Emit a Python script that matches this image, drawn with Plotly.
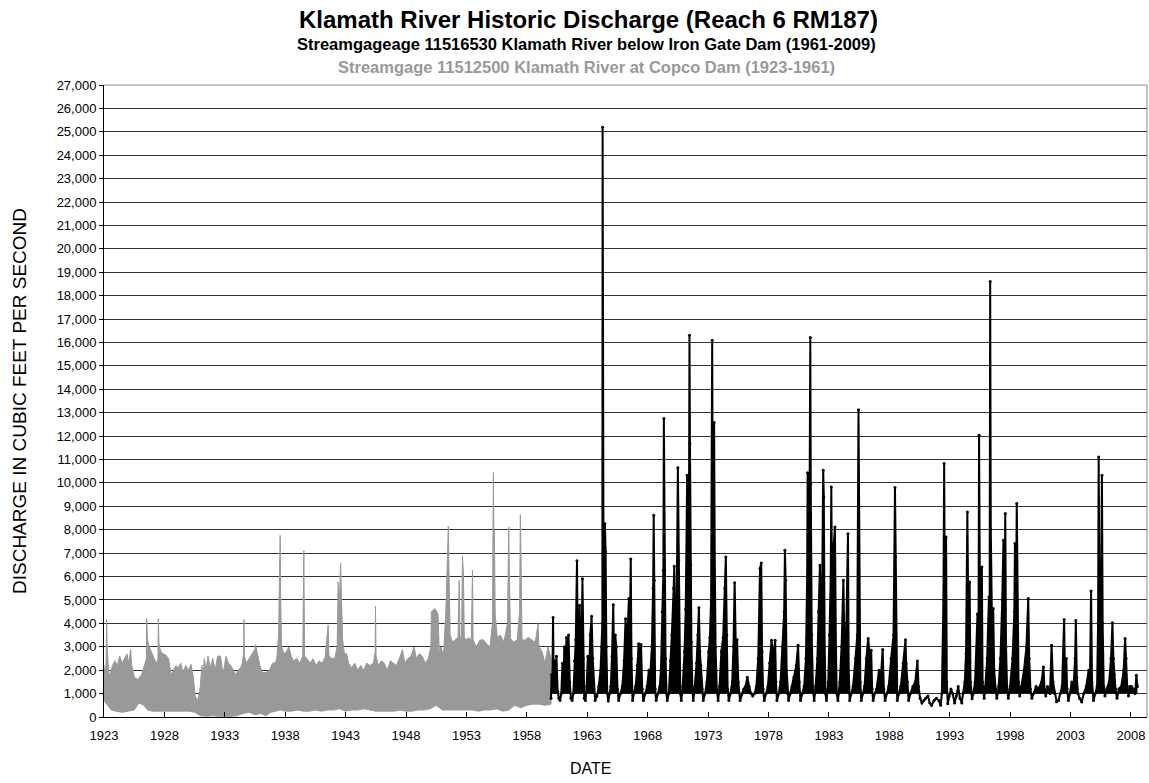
import plotly.graph_objects as go

# Copco Dam gauge (1923-1961): envelope of the daily peaking record, decimal years
copco_upper_year = [
    1923.00, 1923.10, 1923.18, 1923.22, 1923.26, 1923.40, 1923.55, 1923.70, 1923.90, 1924.10,
    1924.30, 1924.50, 1924.70, 1924.90, 1925.05, 1925.20, 1925.30, 1925.50, 1925.80, 1926.10,
    1926.35, 1926.50, 1926.53, 1926.60, 1926.75, 1926.95, 1927.15, 1927.35, 1927.47, 1927.50,
    1927.55, 1927.70, 1927.90, 1928.10, 1928.35, 1928.55, 1928.75, 1928.95, 1929.15, 1929.35,
    1929.55, 1929.75, 1930.00, 1930.20, 1930.40, 1930.55, 1930.75, 1930.95, 1931.10, 1931.20,
    1931.30, 1931.45, 1931.60, 1931.80, 1932.00, 1932.20, 1932.40, 1932.65, 1932.85, 1933.10,
    1933.30, 1933.50, 1933.70, 1933.90, 1934.10, 1934.30, 1934.45, 1934.55, 1934.58, 1934.62,
    1934.80, 1935.00, 1935.25, 1935.50, 1935.55, 1935.70, 1935.90, 1936.10, 1936.40, 1936.70,
    1936.95, 1937.15, 1937.30, 1937.45, 1937.50, 1937.58, 1937.62, 1937.70, 1937.90, 1938.10,
    1938.30, 1938.50, 1938.70, 1938.95, 1939.20, 1939.45, 1939.54, 1939.60, 1939.80, 1940.05,
    1940.30, 1940.55, 1940.80, 1941.05, 1941.30, 1941.50, 1941.55, 1941.62, 1941.85, 1942.10,
    1942.30, 1942.38, 1942.50, 1942.58, 1942.66, 1942.75, 1942.90, 1943.07, 1943.25, 1943.50,
    1943.75, 1944.00, 1944.25, 1944.50, 1944.75, 1945.00, 1945.30, 1945.45, 1945.47, 1945.52,
    1945.70, 1945.95, 1946.20, 1946.45, 1946.70, 1946.95, 1947.20, 1947.45, 1947.70, 1947.90,
    1948.15, 1948.40, 1948.67, 1948.85, 1949.10, 1949.35, 1949.60, 1949.85, 1950.05, 1950.10,
    1950.40, 1950.65, 1950.75, 1950.90, 1951.10, 1951.30, 1951.50, 1951.55, 1951.65, 1951.85,
    1952.10, 1952.30, 1952.40, 1952.47, 1952.60, 1952.67, 1952.75, 1952.82, 1953.00, 1953.20,
    1953.40, 1953.50, 1953.55, 1953.80, 1954.10, 1954.40, 1954.70, 1954.95, 1955.15, 1955.23,
    1955.27, 1955.31, 1955.38, 1955.55, 1955.80, 1956.10, 1956.40, 1956.50, 1956.55, 1956.65,
    1956.90, 1957.20, 1957.40, 1957.46, 1957.52, 1957.60, 1957.85, 1958.10, 1958.40, 1958.70,
    1958.93, 1959.00, 1959.25, 1959.50, 1959.75, 1960.00,
]
copco_upper_cfs = [
    2200, 1600, 2500, 4160, 2990, 1800, 1900, 2200, 2400, 2200,
    2600, 2300, 2500, 2700, 2300, 2880, 2200, 1700, 1600, 1800,
    2200, 2500, 4200, 3300, 2990, 2700, 2500, 2280, 2500, 4200,
    3130, 2800, 2700, 2650, 2500, 1800, 2000, 2200, 2100, 2300,
    1900, 2200, 2000, 2250, 1700, 900, 700, 1200, 2200, 1700,
    2500, 2000, 2600, 2100, 2500, 2000, 2600, 2600, 1800, 2600,
    2300, 2200, 2000, 1800, 2000, 2100, 2300, 2700, 4160, 2600,
    2300, 2500, 2700, 2900, 3090, 2700, 2200, 1900, 1900, 2000,
    2300, 2300, 2490, 3500, 5480, 7760, 5130, 3000, 2700, 2800,
    2990, 2600, 2400, 2500, 2300, 2600, 7120, 2600, 2500, 2300,
    2490, 2200, 2400, 2300, 2550, 3500, 3920, 2600, 2500, 2500,
    3000, 5770, 5000, 6580, 5270, 3300, 2700, 2710, 2300, 2100,
    2300, 2000, 2200, 2000, 2300, 2200, 2300, 2800, 4730, 2600,
    2200, 2400, 2300, 2000, 2400, 2300, 2200, 2500, 2880, 2300,
    2500, 2600, 2990, 2500, 2700, 2600, 2300, 2500, 3000, 4500,
    4630, 4400, 2800, 3000, 2600, 4590, 8150, 6410, 3500, 3200,
    3300, 3400, 5840, 3300, 3500, 6870, 6130, 3400, 3300, 3390,
    3300, 6270, 3300, 3000, 3280, 3300, 3100, 3000, 4000, 10440,
    7900, 7980, 4420, 3400, 3500, 3200, 4000, 8120, 6270, 3350,
    3200, 3300, 4500, 8650, 6700, 3300, 3280, 3400, 3300, 3200,
    3990, 3000, 2800, 2300, 3000, 2500,
]
copco_lower_year = [
    1923.00, 1923.30, 1923.60, 1924.00, 1924.50, 1925.00, 1925.50, 1925.90, 1926.30, 1926.60,
    1927.00, 1927.50, 1928.00, 1928.50, 1929.00, 1929.50, 1930.00, 1930.50, 1930.80, 1931.00,
    1931.50, 1932.00, 1932.50, 1933.00, 1933.50, 1934.00, 1934.50, 1935.00, 1935.50, 1936.00,
    1936.40, 1936.80, 1937.20, 1937.60, 1938.00, 1938.50, 1939.00, 1939.50, 1940.00, 1940.50,
    1941.00, 1941.50, 1942.00, 1942.50, 1943.00, 1943.50, 1944.00, 1944.50, 1945.00, 1945.50,
    1946.00, 1946.50, 1947.00, 1947.50, 1948.00, 1948.50, 1949.00, 1949.50, 1950.00, 1950.50,
    1951.00, 1951.50, 1952.00, 1952.50, 1953.00, 1953.50, 1954.00, 1954.50, 1955.00, 1955.50,
    1956.00, 1956.50, 1957.00, 1957.50, 1958.00, 1958.50, 1959.00, 1959.50, 1960.00,
]
copco_lower_cfs = [
    700, 500, 300, 250, 200, 250, 300, 600, 500, 300,
    250, 250, 250, 250, 250, 250, 250, 200, 100, 50,
    30, 50, 30, 20, 30, 50, 150, 200, 100, 150,
    50, 200, 250, 300, 250, 250, 300, 250, 250, 300,
    250, 300, 300, 350, 250, 300, 300, 350, 300, 250,
    250, 250, 250, 300, 250, 250, 300, 300, 350, 500,
    300, 300, 300, 300, 300, 300, 250, 300, 300, 350,
    250, 300, 500, 400, 500, 550, 550, 500, 550,
]

# Iron Gate Dam gauge (1961-2009): daily record, decimal years
iron_gate_year = [
    1960.00, 1960.05, 1960.10, 1960.17, 1960.22, 1960.30, 1960.38, 1960.45, 1960.55, 1960.65,
    1960.75, 1960.85, 1960.95, 1961.02, 1961.10, 1961.18, 1961.28, 1961.36, 1961.45, 1961.55,
    1961.65, 1961.75, 1961.85, 1961.95, 1962.05, 1962.15, 1962.22, 1962.30, 1962.37, 1962.45,
    1962.55, 1962.60, 1962.66, 1962.75, 1962.85, 1962.95, 1963.05, 1963.15, 1963.25, 1963.36,
    1963.45, 1963.55, 1963.65, 1963.80, 1963.95, 1964.10, 1964.20, 1964.25, 1964.27, 1964.30,
    1964.35, 1964.46, 1964.52, 1964.58, 1964.66, 1964.74, 1964.85, 1964.95, 1965.05, 1965.15,
    1965.22, 1965.32, 1965.40, 1965.50, 1965.60, 1965.75, 1965.90, 1966.05, 1966.17, 1966.27,
    1966.45, 1966.52, 1966.60, 1966.66, 1966.75, 1966.85, 1967.00, 1967.15, 1967.25, 1967.35,
    1967.45, 1967.55, 1967.65, 1967.80, 1967.95, 1968.10, 1968.20, 1968.35, 1968.45, 1968.50,
    1968.55, 1968.62, 1968.70, 1968.85, 1969.00, 1969.10, 1969.20, 1969.30, 1969.34, 1969.40,
    1969.48, 1969.56, 1969.62, 1969.75, 1969.90, 1970.00, 1970.15, 1970.20, 1970.30, 1970.40,
    1970.50, 1970.56, 1970.62, 1970.70, 1970.78, 1970.90, 1971.05, 1971.15, 1971.27, 1971.32,
    1971.40, 1971.46, 1971.50, 1971.56, 1971.62, 1971.70, 1971.77, 1971.90, 1972.05, 1972.15,
    1972.24, 1972.32, 1972.40, 1972.50, 1972.60, 1972.75, 1972.90, 1973.05, 1973.15, 1973.25,
    1973.34, 1973.40, 1973.50, 1973.55, 1973.62, 1973.72, 1973.83, 1973.95, 1974.10, 1974.25,
    1974.40, 1974.47, 1974.55, 1974.62, 1974.72, 1974.85, 1975.00, 1975.10, 1975.20, 1975.30,
    1975.40, 1975.50, 1975.65, 1975.80, 1975.95, 1976.10, 1976.25, 1976.40, 1976.55, 1976.70,
    1976.85, 1977.00, 1977.15, 1977.30, 1977.40, 1977.47, 1977.55, 1977.65, 1977.80, 1977.95,
    1978.10, 1978.25, 1978.40, 1978.55, 1978.62, 1978.70, 1978.85, 1979.00, 1979.15, 1979.30,
    1979.36, 1979.42, 1979.50, 1979.58, 1979.66, 1979.80, 1979.95, 1980.10, 1980.30, 1980.45,
    1980.55, 1980.65, 1980.80, 1980.95, 1981.10, 1981.20, 1981.24, 1981.30, 1981.40, 1981.46,
    1981.50, 1981.58, 1981.68, 1981.78, 1981.90, 1982.05, 1982.15, 1982.26, 1982.35, 1982.45,
    1982.53, 1982.58, 1982.65, 1982.72, 1982.80, 1982.95, 1983.05, 1983.15, 1983.20, 1983.28,
    1983.40, 1983.50, 1983.58, 1983.65, 1983.75, 1983.90, 1984.05, 1984.20, 1984.30, 1984.45,
    1984.58, 1984.64, 1984.72, 1984.85, 1985.00, 1985.20, 1985.35, 1985.45, 1985.52, 1985.60,
    1985.68, 1985.80, 1985.95, 1986.10, 1986.25, 1986.40, 1986.50, 1986.58, 1986.66, 1986.80,
    1986.95, 1987.15, 1987.30, 1987.45, 1987.55, 1987.65, 1987.80, 1987.95, 1988.15, 1988.35,
    1988.47, 1988.52, 1988.58, 1988.66, 1988.80, 1988.95, 1989.15, 1989.34, 1989.40, 1989.50,
    1989.60, 1989.75, 1989.95, 1990.15, 1990.33, 1990.42, 1990.55, 1990.70, 1990.85, 1991.00,
    1991.20, 1991.35, 1991.50, 1991.70, 1991.90, 1992.10, 1992.25, 1992.35, 1992.48, 1992.54,
    1992.60, 1992.70, 1992.76, 1992.84, 1992.95, 1993.10, 1993.25, 1993.40, 1993.55, 1993.70,
    1993.85, 1994.00, 1994.10, 1994.25, 1994.35, 1994.46, 1994.55, 1994.65, 1994.72, 1994.85,
    1994.95, 1995.10, 1995.30, 1995.38, 1995.43, 1995.50, 1995.66, 1995.72, 1995.85, 1995.95,
    1996.10, 1996.25, 1996.30, 1996.35, 1996.40, 1996.50, 1996.60, 1996.68, 1996.80, 1996.90,
    1997.05, 1997.20, 1997.35, 1997.45, 1997.52, 1997.60, 1997.66, 1997.75, 1997.85, 1998.00,
    1998.20, 1998.35, 1998.40, 1998.47, 1998.55, 1998.62, 1998.70, 1998.80, 1998.95, 1999.15,
    1999.35, 1999.50, 1999.58, 1999.68, 1999.80, 1999.95, 2000.15, 2000.35, 2000.60, 2000.76,
    2000.85, 2000.95, 2001.10, 2001.30, 2001.43, 2001.55, 2001.70, 2001.85, 2002.00, 2002.15,
    2002.30, 2002.47, 2002.55, 2002.65, 2002.72, 2002.82, 2002.95, 2003.10, 2003.25, 2003.38,
    2003.44, 2003.52, 2003.62, 2003.75, 2003.93, 2004.10, 2004.30, 2004.50, 2004.60, 2004.70,
    2004.78, 2004.90, 2005.05, 2005.20, 2005.28, 2005.33, 2005.40, 2005.50, 2005.60, 2005.66,
    2005.75, 2005.85, 2006.00, 2006.20, 2006.35, 2006.47, 2006.55, 2006.62, 2006.72, 2006.85,
    2007.00, 2007.20, 2007.40, 2007.52, 2007.60, 2007.70, 2007.80, 2007.90, 2008.05, 2008.20,
    2008.35, 2008.45, 2008.54,
]
iron_gate_cfs = [
    800, 1800, 1200, 4250, 1500, 2400, 1200, 2600, 1100, 800,
    700, 1000, 2300, 1300, 3000, 1800, 3400, 2000, 3500, 1500,
    800, 700, 1000, 2400, 3300, 6670, 2500, 3400, 4770, 2800,
    3600, 5910, 2500, 800, 700, 1300, 2600, 1800, 3500, 4300,
    2500, 1200, 700, 900, 1300, 2000, 3000, 4000, 25200, 11970,
    5000, 8260, 7050, 3000, 1000, 680, 1000, 1300, 2600, 4800,
    2500, 3500, 3000, 1200, 700, 1000, 1300, 2400, 4200, 2800,
    5060, 3500, 6750, 2500, 700, 1000, 1300, 2200, 3130, 2300,
    3100, 1200, 700, 1000, 1300, 2000, 1700, 3000, 5500, 8620,
    5840, 1200, 700, 1000, 1300, 2000, 4500, 6270, 12750, 6270,
    2500, 1000, 700, 1000, 2400, 3500, 5500, 6440, 3000, 4800,
    10650, 6700, 2500, 1000, 700, 1300, 2800, 4600, 10330, 3400,
    5000, 16310, 11680, 6500, 3200, 1200, 700, 1300, 2300, 3500,
    4670, 2800, 2200, 1200, 700, 1000, 1500, 2800, 3400, 5000,
    16100, 6000, 12580, 7000, 3000, 1200, 700, 1300, 2800, 3400,
    5500, 6840, 3500, 1200, 700, 1000, 1500, 3000, 5740, 2800,
    3300, 1500, 700, 1000, 1200, 1300, 1700, 1300, 1000, 900,
    1000, 1300, 2500, 6340, 6580, 2800, 1200, 700, 1000, 1300,
    2300, 3280, 2500, 3280, 1500, 700, 1000, 1500, 3000, 4500,
    7120, 5840, 2000, 1000, 700, 1000, 1300, 1700, 2200, 3060,
    1500, 700, 1000, 1300, 2500, 6000, 10430, 5000, 9000, 16210,
    9970, 3500, 1200, 700, 1300, 2500, 4500, 6480, 3200, 6000,
    10540, 9400, 3000, 1000, 700, 1500, 3500, 6000, 9830, 3500,
    7400, 8120, 3000, 1000, 700, 1500, 3000, 5840, 2500, 4000,
    7830, 2000, 700, 1000, 1300, 2500, 3500, 13130, 4000, 1500,
    700, 1000, 1300, 2500, 3350, 2600, 2850, 1200, 700, 1000,
    1200, 2000, 1700, 2880, 1200, 700, 1000, 1300, 2500, 3500,
    9800, 6840, 2000, 700, 1000, 1300, 2300, 3300, 2280, 1500,
    700, 1000, 1300, 1500, 2390, 1300, 800, 600, 700, 800,
    900, 600, 500, 700, 800, 700, 500, 1000, 5000, 10830,
    5000, 7690, 1500, 570, 900, 1200, 1000, 600, 900, 1300,
    800, 600, 1000, 1500, 2700, 8760, 4000, 5770, 1500, 780,
    1000, 1500, 4400, 3000, 12040, 5000, 6410, 1500, 800, 1300,
    2500, 5130, 3500, 18600, 8000, 4000, 4630, 2000, 1200, 800,
    1300, 2500, 5000, 7550, 4000, 8690, 3000, 1200, 800, 1300,
    2500, 4500, 7410, 4000, 9120, 4000, 1500, 900, 1300, 2000,
    3000, 5060, 2500, 1200, 800, 1000, 1300, 1200, 1500, 2140,
    1200, 900, 1300, 1000, 3060, 1500, 1000, 650, 700, 1000,
    1300, 4170, 1500, 2500, 1200, 700, 1000, 1500, 1300, 2500,
    4120, 1700, 1000, 800, 640, 1000, 1300, 2000, 1200, 5380,
    1500, 700, 1000, 1300, 4000, 11110, 5000, 3000, 10330, 4000,
    1300, 900, 1200, 1500, 2500, 4030, 2500, 1800, 1200, 800,
    1200, 1300, 2000, 3350, 2500, 1200, 900, 1300, 1300, 1200,
    1000, 1780, 1300,
]
# typical summer base release below Iron Gate, cfs
iron_gate_base_cfs = 1000

year_ticks = list(range(1923, 2009, 5))
cfs_ticks = list(range(0, 27001, 1000))

FONT = "Liberation Sans, Arial, sans-serif"
GRAY = "#999999"
BLACK = "#000000"

fig = go.Figure()

# Copco record drawn as a filled band between the daily lows and highs
fig.add_trace(go.Scatter(
    x=copco_upper_year + copco_lower_year[::-1],
    y=copco_upper_cfs + copco_lower_cfs[::-1],
    mode="lines",
    fill="toself",
    fillcolor=GRAY,
    line=dict(color=GRAY, width=1),
    hoverinfo="skip",
    showlegend=False,
))

# Iron Gate daily swings shaded down to the base release (nothing below it)
iron_gate_floor = [min(v, iron_gate_base_cfs) for v in iron_gate_cfs]
fig.add_trace(go.Scatter(
    x=iron_gate_year + iron_gate_year[::-1],
    y=iron_gate_cfs + iron_gate_floor[::-1],
    mode="none",
    fill="toself",
    fillcolor=BLACK,
    hoverinfo="skip",
    showlegend=False,
))

# Iron Gate record
fig.add_trace(go.Scatter(
    x=iron_gate_year,
    y=iron_gate_cfs,
    mode="lines+markers",
    line=dict(color=BLACK, width=2),
    marker=dict(color=BLACK, size=3),
    showlegend=False,
))

W, H = 1149, 783
L, R, T, B = 104, 2, 85, 66
pw, ph = W - L - R, H - T - B


def px_x(x):
    return (x - L) / pw


def px_y(y):
    return (H - B - y) / ph


fig.update_layout(
    width=W, height=H,
    margin=dict(l=L, r=R, t=T, b=B),
    paper_bgcolor="white",
    plot_bgcolor="white",
    font=dict(family=FONT, size=13, color=BLACK),
    xaxis=dict(
        range=[1923, 2009.33],
        tickvals=year_ticks,
        ticktext=[str(y) for y in year_ticks],
        showgrid=False,
        zeroline=False,
        showline=True, linecolor=BLACK, linewidth=1,
        ticks="inside", ticklen=5, tickcolor=BLACK,
        ticklabelstandoff=6,
        tickfont=dict(size=13),
    ),
    yaxis=dict(
        range=[0, 27000],
        tickvals=cfs_ticks,
        tickformat=",d",
        showgrid=True, gridcolor="#333333", gridwidth=1,
        zeroline=False,
        showline=True, linecolor=BLACK, linewidth=1,
        ticks="outside", ticklen=4, tickcolor=BLACK,
        tickfont=dict(size=13),
    ),
    shapes=[
        dict(type="line", xref="paper", yref="paper", x0=1, x1=1, y0=0, y1=1,
             line=dict(color="#888888", width=1)),
        dict(type="line", xref="paper", yref="paper", x0=0, x1=1, y0=1, y1=1,
             line=dict(color="#888888", width=1)),
    ],
    annotations=[
        dict(text="<b>Klamath River Historic Discharge (Reach 6 RM187)</b>",
             xref="paper", yref="paper", x=px_x(588), y=px_y(19),
             xanchor="center", yanchor="middle", showarrow=False,
             font=dict(size=24, color=BLACK)),
        dict(text="<b>Streamgageage 11516530 Klamath River below Iron Gate Dam (1961-2009)</b>",
             xref="paper", yref="paper", x=px_x(586), y=px_y(44),
             xanchor="center", yanchor="middle", showarrow=False,
             font=dict(size=16.5, color=BLACK)),
        dict(text="<b>Streamgage 11512500 Klamath River at Copco Dam (1923-1961)</b>",
             xref="paper", yref="paper", x=px_x(586), y=px_y(67.5),
             xanchor="center", yanchor="middle", showarrow=False,
             font=dict(size=16.5, color=GRAY)),
        dict(text="DISCHARGE IN CUBIC FEET PER SECOND",
             xref="paper", yref="paper", x=px_x(19), y=0.5, textangle=-90,
             xanchor="center", yanchor="middle", showarrow=False,
             font=dict(size=19, color=BLACK)),
        dict(text="DATE",
             xref="paper", yref="paper", x=px_x(590), y=px_y(768),
             xanchor="center", yanchor="middle", showarrow=False,
             font=dict(size=16, color=BLACK)),
    ],
)

fig.write_html("out.html")
